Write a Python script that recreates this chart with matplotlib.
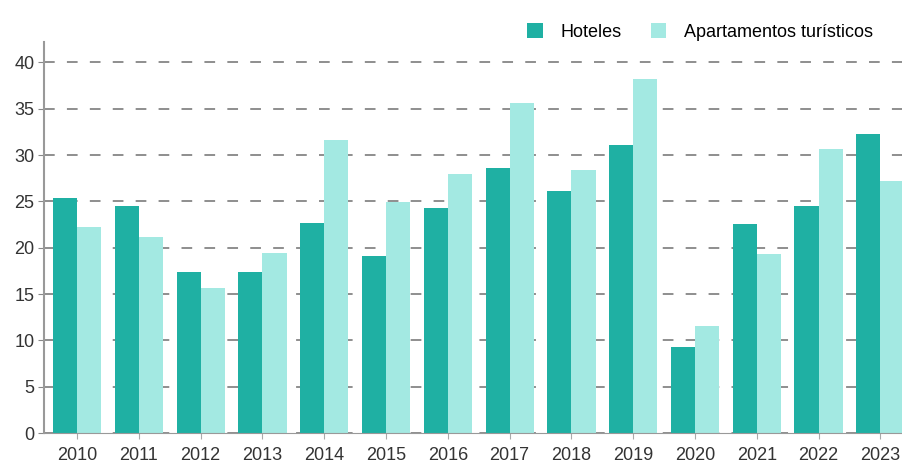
import matplotlib.pyplot as plt
import numpy as np

years = ["2010", "2011", "2012", "2013", "2014", "2015", "2016",
         "2017", "2018", "2019", "2020", "2021", "2022", "2023"]
hoteles = [25.4, 24.5, 17.4, 17.4, 22.7, 19.1, 24.3, 28.6, 26.1, 31.1, 9.3, 22.6, 24.5, 32.3]
apartamentos = [22.2, 21.2, 15.6, 19.4, 31.6, 24.9, 28.0, 35.6, 28.4, 38.2, 11.6, 19.3, 30.7, 27.2]
y_ticks = [0, 5, 10, 15, 20, 25, 30, 35, 40]

plt.rcParams["font.family"] = ["Liberation Sans", "DejaVu Sans"]

fig = plt.figure(figsize=(9.02, 4.67), dpi=100)
ax = fig.add_axes([44 / 902, 34 / 467, 1 - 44 / 902, (433 - 42) / 467])

x = np.arange(len(years))
w = 0.39
ax.bar(x - w / 2, hoteles, width=w, color="#1fb0a3", label="Hoteles", zorder=2)
ax.bar(x + w / 2, apartamentos, width=w, color="#a3e9e2", label="Apartamentos turísticos", zorder=2)

ax.set_xlim(-0.535, 13.35)
ax.set_ylim(0, 42.2)
ax.set_xticks(x, labels=years)
ax.set_yticks(y_ticks)
ax.tick_params(axis="both", labelsize=13, colors="#333333", width=0.8)
ax.tick_params(axis="x", length=4, pad=6, color="#aaaaaa")
ax.tick_params(axis="y", length=4, pad=3, color="#888888")

ax.yaxis.grid(True, linestyle=(0, (7, 8)), color="#707070", linewidth=1.1, zorder=0)
ax.set_axisbelow(True)
for side in ["top", "right"]:
    ax.spines[side].set_visible(False)
ax.spines["left"].set_color("#999999")
ax.spines["bottom"].set_color("#999999")
ax.spines["left"].set_linewidth(1.5)

fig.legend(loc="upper right", bbox_to_anchor=(0.986, 0.985), ncol=2, frameon=False,
           fontsize=13, handlelength=0.85, handleheight=0.85, handletextpad=1.0,
           columnspacing=1.6)

fig.savefig("out.png", dpi=100)
